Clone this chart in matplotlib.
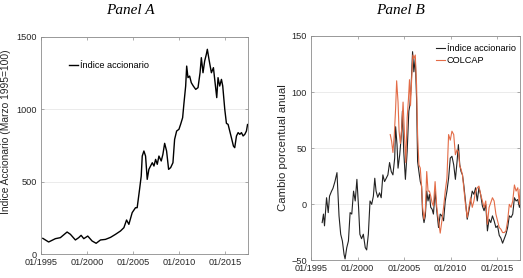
import matplotlib
matplotlib.use("Agg")
import matplotlib.pyplot as plt

plt.rcParams['font.family'] = ['Liberation Sans', 'DejaVu Sans']

# Panel A: indice accionario (Marzo 1995=100)
years_a = [1995.2, 1995.83, 1996.56, 1997.10, 1997.83, 1998.19, 1998.73, 1999.09, 1999.35, 1999.64,
           2000.07, 2000.54, 2000.98, 2001.45, 2001.99, 2002.54, 2003.08, 2003.62, 2003.99, 2004.28,
           2004.53, 2004.89, 2005.25, 2005.43, 2005.69, 2005.87, 2005.98, 2006.16, 2006.34, 2006.52,
           2006.70, 2006.88, 2007.07, 2007.25, 2007.43, 2007.61, 2007.79, 2008.04, 2008.22, 2008.41,
           2008.62, 2008.84, 2009.06, 2009.31, 2009.49, 2009.71, 2009.96, 2010.14, 2010.36, 2010.51,
           2010.69, 2010.80, 2010.94, 2011.12, 2011.30, 2011.52, 2011.78, 2012.03, 2012.25, 2012.39,
           2012.57, 2012.75, 2012.93, 2013.04, 2013.22, 2013.48, 2013.70, 2013.84, 2014.06, 2014.20,
           2014.38, 2014.57, 2014.71, 2014.93, 2015.11, 2015.29, 2015.47, 2015.65, 2015.87, 2016.01,
           2016.20, 2016.38, 2016.56, 2016.74, 2016.92, 2017.10, 2017.28, 2017.40]
indice = [108, 83, 106, 113, 152, 136, 97, 113, 129, 106,
          124, 90, 74, 97, 101, 115, 136, 159, 182, 235,
          205, 286, 320, 320, 447, 539, 677, 712, 677, 516,
          585, 608, 631, 608, 654, 620, 677, 643, 689, 765,
          712, 585, 597, 631, 792, 850, 862, 896, 942, 1046,
          1161, 1299, 1219, 1230, 1184, 1161, 1138, 1150, 1253, 1357,
          1253, 1334, 1380, 1415, 1345, 1253, 1288, 1207, 1081, 1219,
          1161, 1207, 1161, 1000, 903, 896, 850, 804, 746, 735,
          816, 839, 827, 839, 816, 827, 850, 895]

# Panel B: cambio porcentual anual
years_b = [1996.20, 1996.34, 1996.45, 1996.67, 1996.85, 1996.99, 1997.21, 1997.36, 1997.57, 1997.79,
           1998.01, 1998.19, 1998.37, 1998.55, 1998.66, 1998.84, 1999.02, 1999.20, 1999.38, 1999.57,
           1999.75, 1999.93, 2000.11, 2000.25, 2000.43, 2000.62, 2000.83, 2000.98, 2001.16, 2001.34,
           2001.52, 2001.70, 2001.85, 2001.99, 2002.17, 2002.36, 2002.54, 2002.72, 2002.90, 2003.08,
           2003.26, 2003.44, 2003.62, 2003.80, 2003.99, 2004.09, 2004.24, 2004.35, 2004.53, 2004.71,
           2004.82, 2004.96, 2005.14, 2005.33, 2005.51, 2005.62, 2005.76, 2005.91, 2006.05, 2006.20,
           2006.34, 2006.45, 2006.59, 2006.74, 2006.88, 2006.99, 2007.14, 2007.28, 2007.43, 2007.57,
           2007.72, 2007.86, 2008.01, 2008.15, 2008.33, 2008.51, 2008.70, 2008.88, 2009.06, 2009.24,
           2009.42, 2009.60, 2009.78, 2009.96, 2010.14, 2010.33, 2010.51, 2010.69, 2010.83, 2010.98,
           2011.12, 2011.27, 2011.41, 2011.59, 2011.78, 2011.96, 2012.14, 2012.32, 2012.50, 2012.68,
           2012.86, 2013.04, 2013.22, 2013.41, 2013.59, 2013.77, 2013.95, 2014.13, 2014.31, 2014.49,
           2014.67, 2014.86, 2015.04, 2015.22, 2015.40, 2015.58, 2015.76, 2015.94, 2016.12, 2016.30,
           2016.49, 2016.67, 2016.85, 2017.03, 2017.21, 2017.39, 2017.45]
cambio_indice = [-16.6, -9, -19.5, 5.6, -7.7, 7, 11.5, 14, 20, 28,
                 -10.6, -27, -33, -45, -49, -39, -33, -7.7, -9, 11.5,
                 2.7, 22, -3, -27, -31, -27, -39, -41, -27, 2.7,
                 -0.3, 7, 23, 11.5, 6, 10, 5.6, 26, 20, 23,
                 26, 37, 29, 26, 41, 69, 53, 32, 44, 62,
                 83, 47, 22, 47, 83, 88, 106, 136, 118, 130,
                 94, 38, 29, 20, 16, -9, -16.6, -10.6, 11.5, 2.7,
                 8.6, -3, -4.7, -9, 11.5, -6, -21, -9, -10.6, -15,
                 2.7, 11.5, 23, 41, 42.6, 35, 22, 38, 53, 35,
                 29, 26, 17, 2.7, -13.6, -6, 2.7, 11.5, 8.6, 14.5,
                 2.7, 14.5, 8.6, -1.8, -6, -0.3, -24, -13.6, -16.6, -10.6,
                 -15, -21, -19.5, -28, -30.5, -35, -31, -27, -21, -10.6,
                 -12, -9, 5.6, 2.7, 4, -3, 5.6]

years_c = [2003.51, 2003.66, 2003.80, 2003.95, 2004.09, 2004.20, 2004.35, 2004.46, 2004.60, 2004.75,
           2004.89, 2005.04, 2005.18, 2005.33, 2005.47, 2005.58, 2005.69, 2005.83, 2005.94, 2006.05,
           2006.20, 2006.34, 2006.45, 2006.59, 2006.74, 2006.88, 2006.99, 2007.14, 2007.28, 2007.43,
           2007.57, 2007.72, 2007.86, 2008.01, 2008.15, 2008.33, 2008.51, 2008.70, 2008.88, 2009.06,
           2009.24, 2009.42, 2009.60, 2009.78, 2009.96, 2010.14, 2010.33, 2010.51, 2010.69, 2010.83,
           2010.98, 2011.12, 2011.27, 2011.41, 2011.59, 2011.78, 2011.96, 2012.14, 2012.32, 2012.50,
           2012.68, 2012.86, 2013.04, 2013.22, 2013.41, 2013.59, 2013.77, 2013.95, 2014.13, 2014.31,
           2014.49, 2014.67, 2014.86, 2015.04, 2015.22, 2015.40, 2015.58, 2015.76, 2015.94, 2016.12,
           2016.30, 2016.49, 2016.67, 2016.85, 2017.03, 2017.21, 2017.39, 2017.45]
cambio_colcap = [62, 56, 46, 62, 85.5, 110, 91, 65, 54, 68,
                 91, 62, 37, 77, 94, 111, 88, 115, 133, 130,
                 133, 106, 62, 35, 32, 14.5, -3, -13.6, -6, 29,
                 11.5, 11.5, 7, 1, -1.8, 20, -3, -15, -26, -15,
                 -3, 11.5, 23, 62, 57, 65, 62, 44, 48.5, 47,
                 34, 31, 26, 14.5, -0.3, -12, -3, 5.6, -3, 2.7,
                 11.5, 14.5, 16, 8.6, 2.7, -3, 2.7, -18, -3, 1.2,
                 5.6, 2.7, -9, -15, -21, -22.5, -25.5, -25.5, -24, -15,
                 -0.3, -3, 2.7, 17, 11.5, 14.5, -0.3, 13]

xtick_years = [1995, 2000, 2005, 2010, 2015]
xtick_labels = ['01/1995', '01/2000', '01/2005', '01/2010', '01/2015']

W, H = 523, 278
fig = plt.figure(figsize=(W / 100, H / 100), dpi=100)

axA = fig.add_axes([41 / W, (H - 254) / H, 207 / W, 217 / H])
axB = fig.add_axes([311 / W, (H - 260) / H, 209 / W, 224 / H])

def style(ax):
    ax.set_xlim(1995, 2017.45)
    ax.set_xticks(xtick_years)
    ax.set_xticklabels(xtick_labels)
    ax.tick_params(direction='in', top=True, right=True, length=2.5, width=0.5,
                   color='#8c8c8c', labelsize=6.6, labelcolor='#262626', pad=3)
    for s in ax.spines.values():
        s.set_color('#8c8c8c')
        s.set_linewidth(0.6)
    ax.grid(axis='y', color='#e8e8e8', lw=0.6)
    ax.set_axisbelow(True)

# Panel A
axA.plot(years_a, indice, color='black', lw=1.0, label='Índice accionario')
style(axA)
axA.set_ylim(0, 1500)
axA.set_yticks([0, 500, 1000, 1500])
axA.set_ylabel('Índice Accionario (Marzo 1995=100)', fontsize=7.4, color='#262626')
axA.yaxis.set_label_coords(-0.145, 0.565)
axA.legend(loc='upper left', bbox_to_anchor=(0.135, 0.89), frameon=False, fontsize=6.6,
           handlelength=1.0, handletextpad=0.2, borderpad=0, borderaxespad=0)

# Panel B
axB.plot(years_b, cambio_indice, color='#222222', lw=0.8, label='Índice accionario')
axB.plot(years_c, cambio_colcap, color='#e36c47', lw=0.8, label='COLCAP')
style(axB)
axB.set_ylim(-50, 150)
axB.set_yticks([-50, 0, 50, 100, 150])
axB.set_ylabel('Cambio porcentual anual', fontsize=8.2, color='#262626')
axB.yaxis.set_label_coords(-0.11, 0.5)
axB.legend(loc='upper left', bbox_to_anchor=(0.598, 0.964), frameon=False, fontsize=6.6,
           handlelength=1.0, handletextpad=0.2, borderpad=0, borderaxespad=0, labelspacing=0.35)

fig.text(130 / W, 1 - 11 / H, 'Panel A', ha='center', va='center', fontsize=11,
         family='Liberation Serif', style='italic')
fig.text(401 / W, 1 - 11 / H, 'Panel B', ha='center', va='center', fontsize=11,
         family='Liberation Serif', style='italic')

fig.savefig('out.png', dpi=100)
